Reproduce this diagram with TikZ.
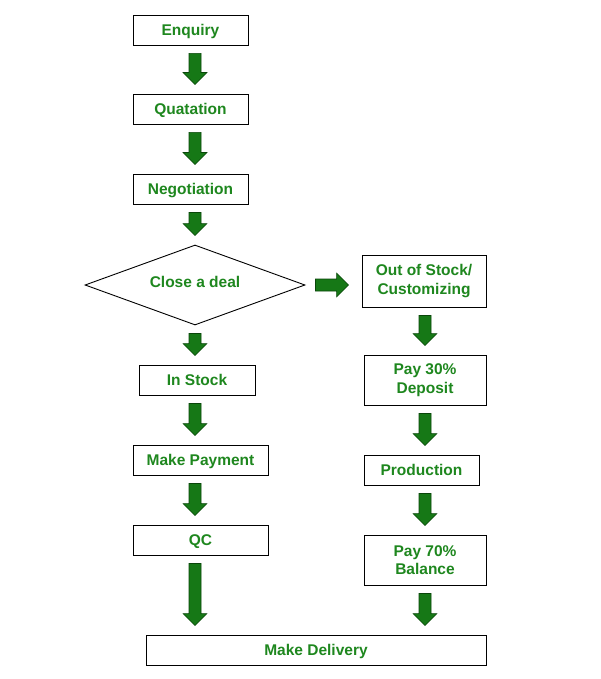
\documentclass[tikz,border=0pt]{standalone}
\usepackage{fontspec}
\setmainfont{Liberation Sans}
\usetikzlibrary{shapes.geometric,calc}
\definecolor{txtgreen}{RGB}{30,135,30}
\definecolor{arrgreen}{RGB}{22,120,22}
\definecolor{arredge}{RGB}{10,70,10}
\tikzset{
  box/.style={draw=black, line width=0.9pt, fill=white, inner sep=0pt,
    font=\fontsize{15.5}{18.5}\selectfont\bfseries, text=txtgreen, align=center},
  oneline/.style={box, text height=11pt, text depth=0pt},
  arrowfill/.style={fill=arrgreen, draw=arredge, line width=0.6pt}
}
% vertical block arrow from #2 (south) to #3 (north), x offset #1
\newcommand\varrow[3][0]{%
  \filldraw[arrowfill] let \p1=(#2.south), \p2=(#3.north) in
  (\x1+#1pt-6pt,\y1-8pt) -- (\x1+#1pt-6pt,\y2+21pt) -- (\x1+#1pt-12pt,\y2+21pt)
  -- (\x1+#1pt,\y2+9pt) -- (\x1+#1pt+12pt,\y2+21pt) -- (\x1+#1pt+6pt,\y2+21pt)
  -- (\x1+#1pt+6pt,\y1-8pt) -- cycle;}
\begin{document}
\begin{tikzpicture}[x=1pt,y=-1pt]
\useasboundingbox[fill=white] (0,0) rectangle (600,679);
% left column
\node[oneline, minimum width=115pt, minimum height=30pt] (enq) at (190.5,30) {Enquiry};
\node[oneline, minimum width=115pt, minimum height=30pt] (quo) at (190.5,109) {Quatation};
\node[oneline, minimum width=115pt, minimum height=30pt] (neg) at (190.5,189) {Negotiation};
\node[box, diamond, minimum width=220pt, minimum height=80pt, aspect=2.75] (deal) at (195,285) {};
\node[oneline, draw=none, fill=none] (dealtxt) at (195,282) {Close a deal};
\node[oneline, minimum width=116pt, minimum height=30pt] (instock) at (197,380) {In Stock};
\node[oneline, minimum width=135pt, minimum height=30pt] (pay) at (200.5,460) {Make Payment};
\node[oneline, minimum width=135pt, minimum height=30pt] (qc) at (200.5,540) {QC};
% right column
\node[box, minimum width=124pt, minimum height=52pt] (oos) at (424,281) {Out of Stock/\\Customizing};
\node[box, minimum width=122pt, minimum height=50pt] (dep) at (425,380) {Pay 30\%\\Deposit};
\node[oneline, minimum width=115pt, minimum height=30pt] (prod) at (421.5,470) {Production};
\node[box, minimum width=122pt, minimum height=50pt] (bal) at (425,560) {Pay 70\%\\Balance};
% bottom
\node[oneline, minimum width=340pt, minimum height=30pt] (del) at (316,650) {Make Delivery};
% arrows
\varrow[4.5]{enq}{quo}
\varrow[4.5]{quo}{neg}
\varrow[4.5]{neg}{deal}
\varrow{deal}{instock}
\varrow[-2]{instock}{pay}
\varrow[-5.5]{pay}{qc}
\varrow[-5.5]{qc}{del}
\varrow[1]{oos}{dep}
\varrow{dep}{prod}
\varrow[3.5]{prod}{bal}
\varrow{bal}{del}
\filldraw[arrowfill] let \p1=(deal.east), \p2=(oos.west) in
  (\x1+10pt,\y1+6pt) -- (\x2-25pt,\y1+6pt) -- (\x2-25pt,\y1+12pt) -- (\x2-13pt,\y1)
  -- (\x2-25pt,\y1-12pt) -- (\x2-25pt,\y1-6pt) -- (\x1+10pt,\y1-6pt) -- cycle;
\end{tikzpicture}
\end{document}
